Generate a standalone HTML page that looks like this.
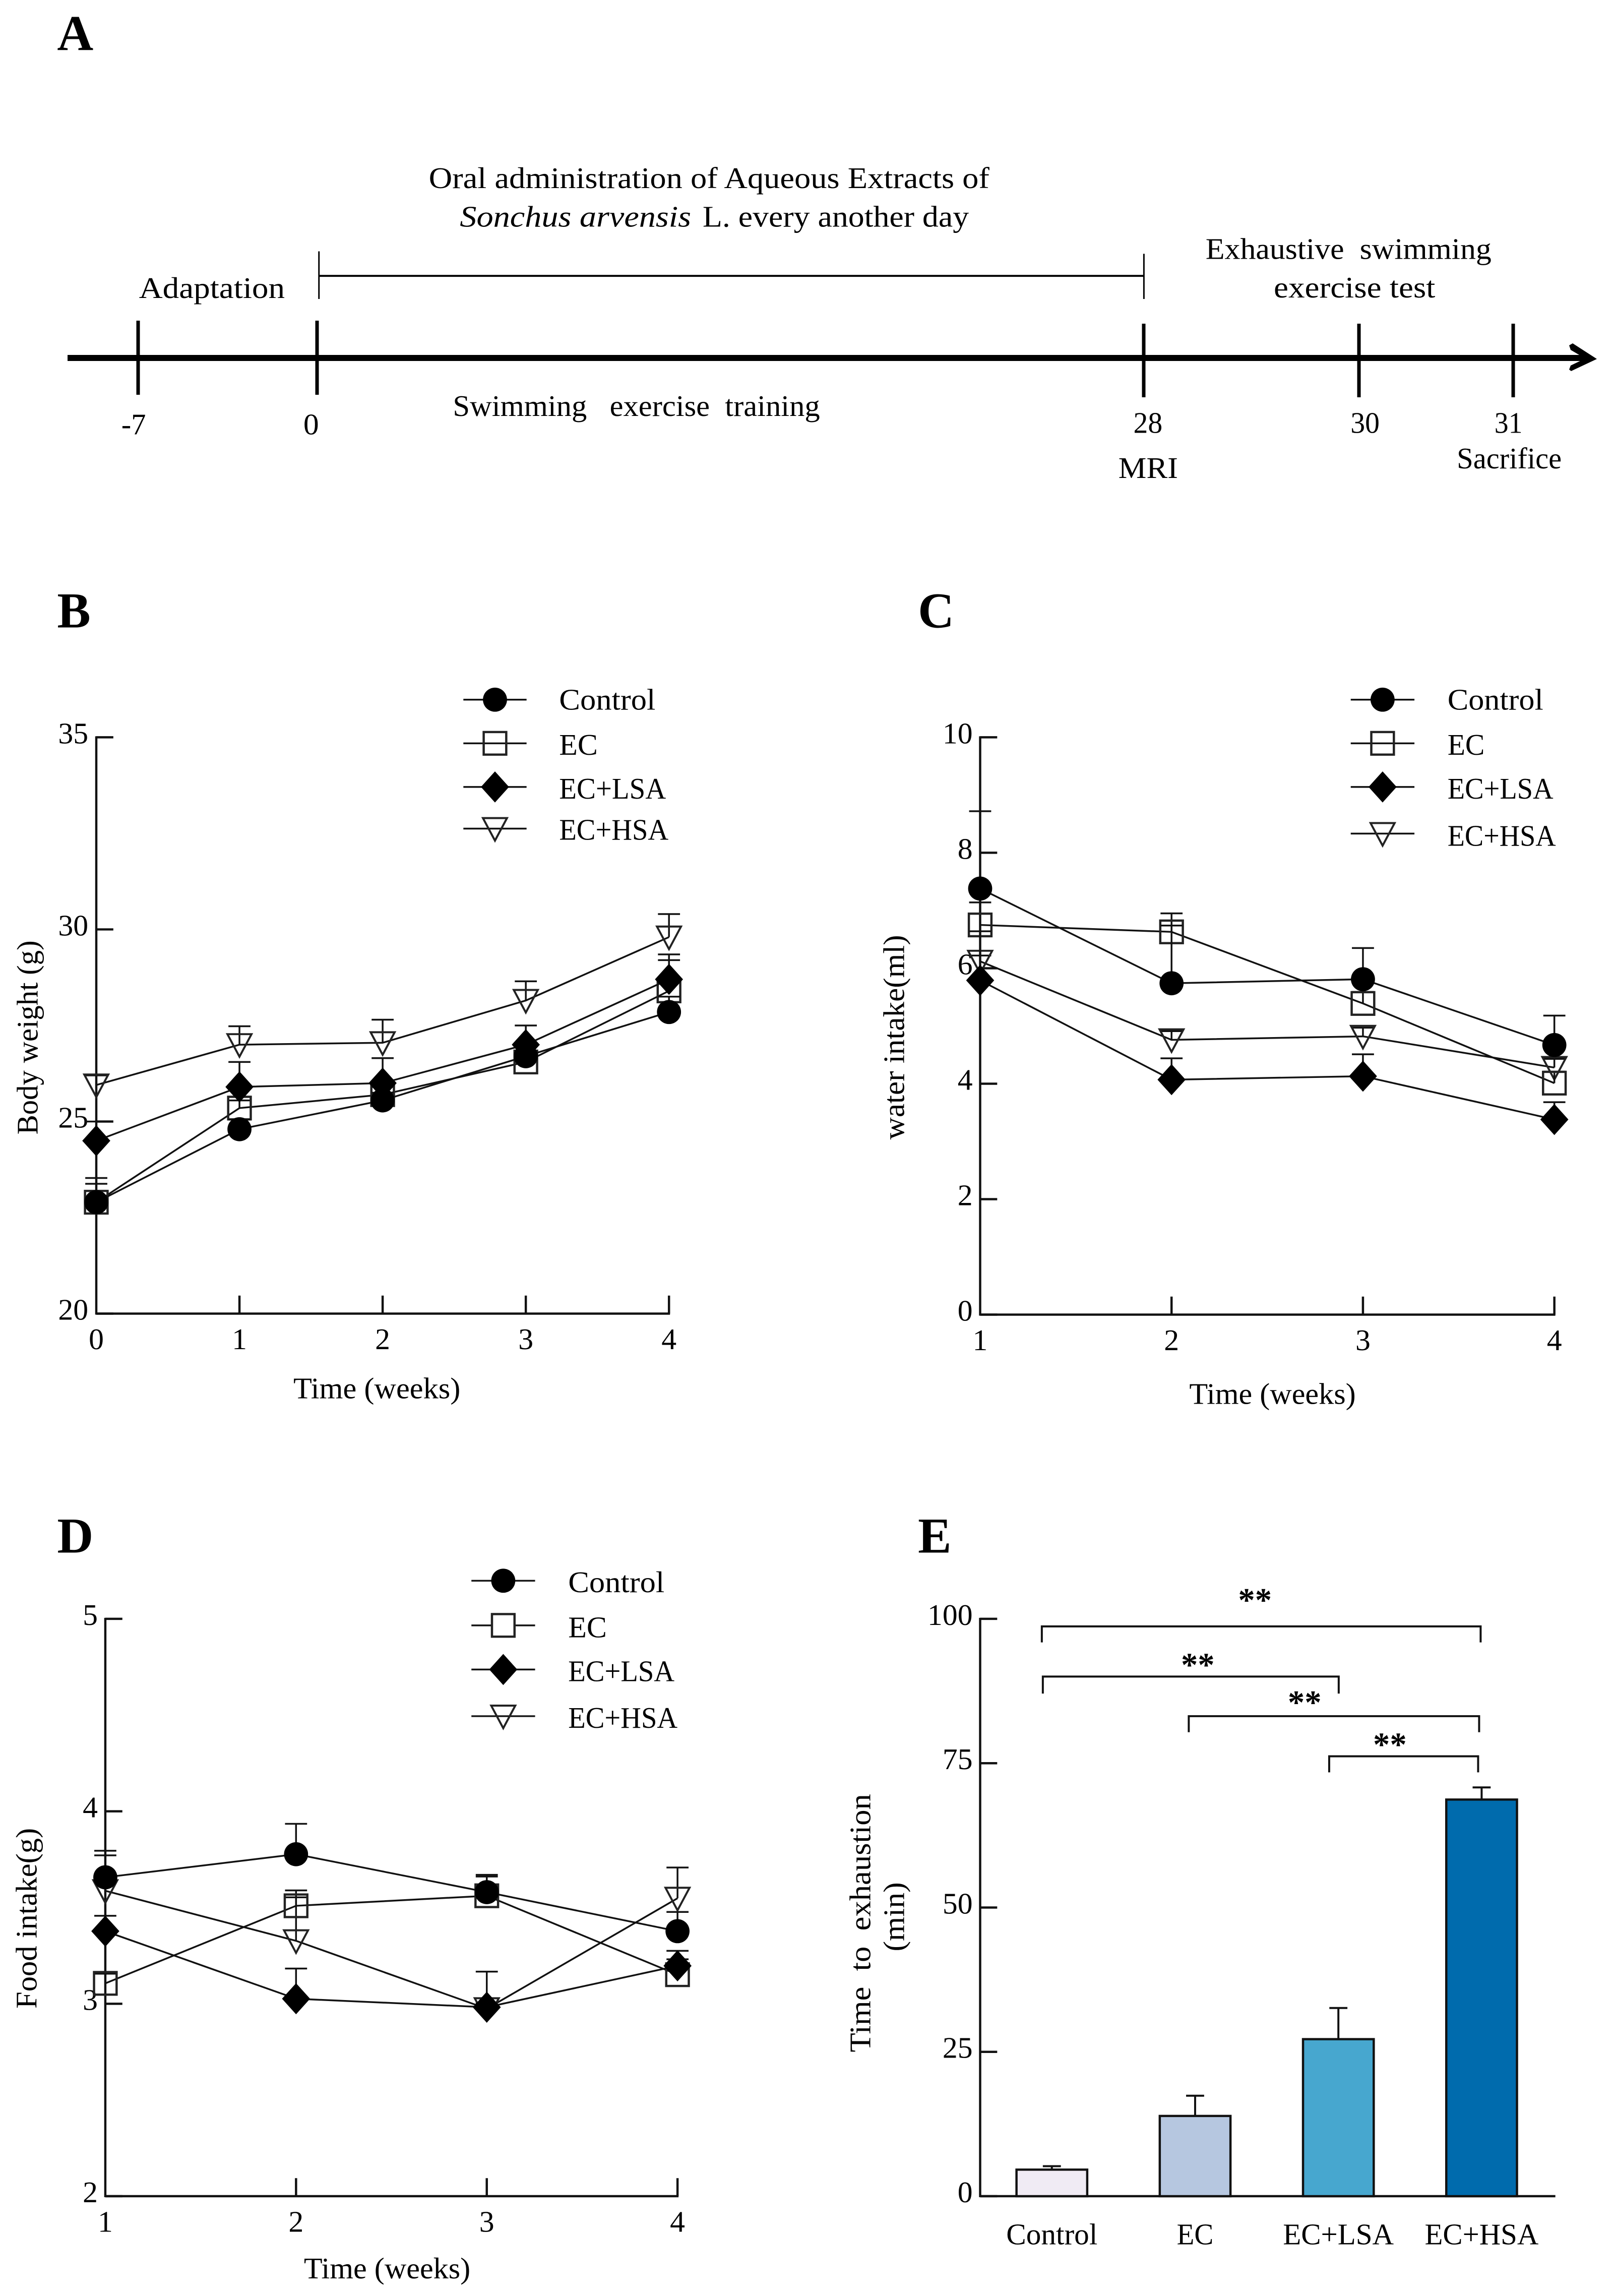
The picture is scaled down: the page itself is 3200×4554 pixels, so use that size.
<!DOCTYPE html>
<html lang="en">
<head>
<meta charset="utf-8">
<title>Sonchus arvensis exercise study figure</title>
<style>
html,body{margin:0;padding:0;background:#fff}
svg{display:block}
text{font-family:"Liberation Serif",serif;fill:#000;white-space:pre}
.ax{stroke:#111;stroke-width:4.5;fill:none}
.pl{font-size:100px;font-weight:bold;fill:#000}
.t{font-size:60px}
.tl{font-size:60px}
</style>
</head>
<body>
<svg id="fig" xmlns="http://www.w3.org/2000/svg" width="3200" height="4554" viewBox="0 0 3200 4554">
<rect width="3200" height="4554" fill="#fff"/>

<g>
<g transform="scale(.9949)">
<text class="pl" x="114" y="100">A</text>
<text class="t" x="855" y="375" textLength="1118" lengthAdjust="spacingAndGlyphs">Oral administration of Aqueous Extracts of</text>
<text class="t" x="917" y="452" textLength="461" lengthAdjust="spacingAndGlyphs" font-style="italic">Sonchus arvensis</text>
<text class="t" x="1401" y="452" textLength="531" lengthAdjust="spacingAndGlyphs">L. every another day</text>
<text class="t" x="277" y="594" textLength="291" lengthAdjust="spacingAndGlyphs">Adaptation</text>
<text class="t" x="2404" y="516" textLength="570" lengthAdjust="spacingAndGlyphs">Exhaustive  swimming</text>
<text class="t" x="2540" y="593" textLength="322" lengthAdjust="spacingAndGlyphs">exercise test</text>
<text class="t" x="903" y="829" textLength="732" lengthAdjust="spacingAndGlyphs">Swimming   exercise  training</text>
<g stroke="#000" fill="none">
<path d="M636 550H2281" stroke-width="4"/>
<path d="M636 501V596M2281 506V596" stroke-width="3"/>
</g>
<text class="t" x="242" y="866" textLength="49" lengthAdjust="spacingAndGlyphs">-7</text>
<text class="t" x="605" y="866" textLength="31" lengthAdjust="spacingAndGlyphs">0</text>
<text class="t" x="2260" y="863" textLength="58" lengthAdjust="spacingAndGlyphs">28</text>
<text class="t" x="2693" y="863" textLength="58" lengthAdjust="spacingAndGlyphs">30</text>
<text class="t" x="2980" y="863" textLength="56" lengthAdjust="spacingAndGlyphs">31</text>
<text class="t" x="2230" y="953" textLength="119" lengthAdjust="spacingAndGlyphs">MRI</text>
<text class="t" x="2905" y="934" textLength="209" lengthAdjust="spacingAndGlyphs">Sacrifice</text>
</g>
<path d="M134 710H3150" stroke="#000" stroke-width="12" fill="none"/>
<polygon points="3113,685 3120,681 3168,712 3117,736 3113,733 3116,725 3145,711 3116,694" fill="#000"/>
<path d="M274 636V783M629 636V783M2269 642V788M2696 642V788M3002 642V788" stroke="#000" stroke-width="7" fill="none"/>
</g>

<g id="panel-b" transform="translate(0 1150) scale(.9949) translate(0 -1150)">
<text class="pl" x="114" y="1245">B</text>
<text class="t" x="585" y="2782" textLength="333" lengthAdjust="spacingAndGlyphs">Time (weeks)</text>
<text class="t" x="75" y="2256" transform="rotate(-90 75 2256)" textLength="387" lengthAdjust="spacingAndGlyphs">Body weight (g)</text>
</g>
<g id="panel-c" transform="translate(1650 1150) scale(.9949) translate(-1650 -1150)">
<text class="pl" x="1822" y="1245">C</text>
<text class="t" x="2363" y="2793" textLength="332" lengthAdjust="spacingAndGlyphs">Time (weeks)</text>
<text class="t" x="1794" y="2266" transform="rotate(-90 1794 2266)" textLength="408" lengthAdjust="spacingAndGlyphs">water intake(ml)</text>
</g>
<g id="panel-d" transform="translate(0 3000) scale(.9949) translate(0 -3000)">
<text class="pl" x="114" y="3080">D</text>
<text class="t" x="606" y="4527" textLength="332" lengthAdjust="spacingAndGlyphs">Time (weeks)</text>
<text class="t" x="73" y="3989" transform="rotate(-90 73 3989)" textLength="360" lengthAdjust="spacingAndGlyphs">Food intake(g)</text>
</g>
<g id="panel-e" transform="translate(1650 3000) scale(.9949) translate(-1650 -3000)">
<text class="pl" x="1822" y="3080">E</text>
<text class="t" x="1727" y="4076" transform="rotate(-90 1727 4076)" textLength="515" lengthAdjust="spacingAndGlyphs">Time  to  exhaustion</text>
<text class="t" x="1794" y="3875" transform="rotate(-90 1794 3875)" textLength="138" lengthAdjust="spacingAndGlyphs">(min)</text>
<g fill="none" stroke="#111" stroke-width="4">
<path d="M2069 3259V3227H2944V3259"/>
<path d="M2071 3361V3327H2661V3361"/>
<path d="M2362 3438V3406H2941V3438"/>
<path d="M2642 3518V3486H2939V3518"/>
</g>
<text x="2494" y="3197" text-anchor="middle" font-weight="bold" font-size="67">**</text>
<text x="2380" y="3326" text-anchor="middle" font-weight="bold" font-size="67">**</text>
<text x="2593" y="3401" text-anchor="middle" font-weight="bold" font-size="67">**</text>
<text x="2763" y="3485" text-anchor="middle" font-weight="bold" font-size="67">**</text>
</g>
</svg>

<script>
// ---- shared series names ----
const seriesNames = ['Control', 'EC', 'EC+LSA', 'EC+HSA'];

// ---- panel B: body weight (g) ----
const bWeeks = [0, 1, 2, 3, 4];
const bYTicks = [20, 25, 30, 35];
const bControl = [22.9, 24.8, 25.55, 26.7, 27.85];
const bEC = [22.9, 25.35, 25.7, 26.55, 28.4];
const bLSA = [24.5, 25.9, 26.0, 27.0, 28.7];
const bHSA = [25.95, 27.0, 27.05, 28.15, 29.8];
const bControlErr = [0.48, 0.25, 0.2, 0.3, 0.4];
const bECErr = [0.63, 0.2, 0.2, 0.2, 0.8];
const bLSAErr = [0.5, 0.65, 0.65, 0.5, 0.65];
const bHSAErr = [0.25, 0.48, 0.6, 0.5, 0.6];

// ---- panel C: water intake (ml) ----
const cWeeks = [1, 2, 3, 4];
const cYTicks = [0, 2, 4, 6, 8, 10];
const cControl = [7.38, 5.74, 5.81, 4.67];
const cEC = [6.75, 6.63, 5.39, 4.01];
const cLSA = [5.79, 4.07, 4.13, 3.38];
const cHSA = [6.12, 4.76, 4.82, 4.28];
const cControlErr = [1.34, 1.0, 0.54, 0.51];
const cECErr = [0.39, 0.32, 0.2, 0.2];
const cLSAErr = [0.85, 0.37, 0.38, 0.3];
const cHSAErr = [0.1, 0.15, 0.15, 0.15];

// ---- panel D: food intake (g) ----
const dWeeks = [1, 2, 3, 4];
const dYTicks = [2, 3, 4, 5];
const dControl = [3.657, 3.777, 3.58, 3.377];
const dEC = [3.106, 3.509, 3.561, 3.151];
const dLSA = [3.377, 3.026, 2.982, 3.197];
const dHSA = [3.587, 3.327, 2.974, 3.548];
const dControlErr = [0.138, 0.158, 0.09, 0.1];
const dECErr = [0.05, 0.08, 0.1, 0.08];
const dLSAErr = [0.08, 0.157, 0.185, 0.078];
const dHSAErr = [0.184, 0.226, 0.03, 0.16];

// ---- panel E: time to exhaustion (min) ----
const eCategories = ['Control', 'EC', 'EC+LSA', 'EC+HSA'];
const eYTicks = [0, 25, 50, 75, 100];
const eValues = [4.6, 13.9, 27.2, 68.7];
const eErrors = [0.6, 3.5, 5.4, 2.1];
const eColors = ['#f0ebf4', '#b6c7e0', '#47a7cf', '#006bad'];

const NS = 'http://www.w3.org/2000/svg';
function linear(d0, d1, r0, r1) {
  return function (v) { return r0 + (v - d0) * (r1 - r0) / (d1 - d0); };
}
function make(parent, tag, attrs, txt) {
  const n = document.createElementNS(NS, tag);
  for (const k in attrs) n.setAttribute(k, attrs[k]);
  if (txt !== undefined) n.textContent = txt;
  parent.appendChild(n);
  return n;
}
function slug(s) { return s.toLowerCase().replace(/\+/g, '-'); }

function drawMarker(parent, kind, cx, cy) {
  if (kind === 0) return make(parent, 'circle', { cx: cx, cy: cy, r: 24, fill: '#000' });
  if (kind === 1) return make(parent, 'rect', { x: cx - 22.5, y: cy - 22.5, width: 45, height: 45, fill: 'none', stroke: '#222', 'stroke-width': 4.5 });
  if (kind === 2) return make(parent, 'polygon', { points: (cx - 28) + ',' + cy + ' ' + cx + ',' + (cy - 31) + ' ' + (cx + 28) + ',' + cy + ' ' + cx + ',' + (cy + 31), fill: '#000' });
  return make(parent, 'polygon', { points: (cx - 24) + ',' + (cy - 21) + ' ' + (cx + 24) + ',' + (cy - 21) + ' ' + cx + ',' + (cy + 24), fill: 'none', stroke: '#222', 'stroke-width': 4 });
}

function drawAxes(parent, prefix, xs, ys, xTicks, yTicks, xEnd, yLabelRight) {
  const x0 = xs(xTicks[0]);
  const y0 = ys(yTicks[0]);
  const yTop = ys(yTicks[yTicks.length - 1]);
  const yAxis = make(parent, 'path', { d: 'M' + x0 + ' ' + (yTop - 2) + 'V' + (y0 + 2), class: 'ax' });
  
  
  const xAxis = make(parent, 'path', { d: 'M' + x0 + ' ' + y0 + 'H' + (xEnd + 2), class: 'ax' });
  
  
  yTicks.forEach(function (t) {
    const tick = make(parent, 'path', { d: 'M' + x0 + ' ' + ys(t) + 'h34', class: 'ax' });
    
    
    const lab = make(parent, 'text', { x: yLabelRight, y: ys(t) + 12, 'text-anchor': 'end', class: 'tl' }, String(t));
    
    
  });
}
function drawXTicks(parent, prefix, xs, y0, xTicks) {
  xTicks.forEach(function (t, i) {
    if (i > 0) {
      const tick = make(parent, 'path', { d: 'M' + xs(t) + ' ' + y0 + 'v-36', class: 'ax' });
      
      
    }
    const lab = make(parent, 'text', { x: xs(t), y: y0 + 71, 'text-anchor': 'middle', class: 'tl' }, String(t));
    
    
  });
}

function drawSeries(parent, prefix, xs, ys, weeks, seriesIndex, values, errors) {
  const name = prefix + '-' + slug(seriesNames[seriesIndex]);
  const g = make(parent, 'g', {});
  
  
  const line = make(g, 'polyline', {
    points: values.map(function (v, i) { return xs(weeks[i]) + ',' + ys(v); }).join(' '),
    fill: 'none', stroke: '#111', 'stroke-width': 3.5
  });
  
  
  values.forEach(function (v, i) {
    const x = xs(weeks[i]);
    const top = ys(v + errors[i]);
    const err = make(g, 'path', { d: 'M' + x + ' ' + ys(v) + 'V' + top + 'M' + (x - 22) + ' ' + top + 'H' + (x + 22), fill: 'none', stroke: '#111', 'stroke-width': 3.5 });
    
    
  });
  values.forEach(function (v, i) {
    const m = drawMarker(g, seriesIndex, xs(weeks[i]), ys(v));
    
    
  });
}

function drawLegendEntry(parent, prefix, seriesIndex, lineStart, lineEnd, rowY, textX, textY, textW) {
  const g = make(parent, 'g', {});
  
  
  const line = make(g, 'path', { d: 'M' + lineStart + ' ' + rowY + 'H' + lineEnd, fill: 'none', stroke: '#111', 'stroke-width': 3.5 });
  
  
  const m = drawMarker(g, seriesIndex, (lineStart + lineEnd) / 2, rowY);
  
  
  if (prefix === 'd' && seriesIndex === 1) m.setAttribute('fill', '#fff');
  const t = make(g, 'text', { x: textX, y: textY, class: 'tl', textLength: textW, lengthAdjust: 'spacingAndGlyphs' }, seriesNames[seriesIndex]);
  
  
}

// Panel B
(function () {
  const p = document.getElementById('panel-b');
  const xs = linear(0, 4, 192, 1334);
  const ys = linear(20, 35, 2613, 1464);
  drawAxes(p, 'b', xs, ys, bWeeks, bYTicks, 1334, 176);
  drawXTicks(p, 'b', xs, 2613, bWeeks);
  drawSeries(p, 'b', xs, ys, bWeeks, 3, bHSA, bHSAErr);
  drawSeries(p, 'b', xs, ys, bWeeks, 1, bEC, bECErr);
  drawSeries(p, 'b', xs, ys, bWeeks, 0, bControl, bControlErr);
  drawSeries(p, 'b', xs, ys, bWeeks, 2, bLSA, bLSAErr);
  drawLegendEntry(p, 'b', 0, 924, 1050, 1389, 1115, 1409, 192);
  drawLegendEntry(p, 'b', 1, 924, 1050, 1476, 1115, 1499, 77);
  drawLegendEntry(p, 'b', 2, 924, 1050, 1563, 1115, 1586, 213);
  drawLegendEntry(p, 'b', 3, 924, 1050, 1646, 1115, 1668, 218);
})();

// Panel C
(function () {
  const p = document.getElementById('panel-c');
  const xs = linear(1, 4, 1946, 3091);
  const ys = linear(0, 10, 2615, 1464);
  drawAxes(p, 'c', xs, ys, cWeeks, cYTicks, 3091, 1931);
  drawXTicks(p, 'c', xs, 2615, cWeeks);
  drawSeries(p, 'c', xs, ys, cWeeks, 3, cHSA, cHSAErr);
  drawSeries(p, 'c', xs, ys, cWeeks, 1, cEC, cECErr);
  drawSeries(p, 'c', xs, ys, cWeeks, 0, cControl, cControlErr);
  drawSeries(p, 'c', xs, ys, cWeeks, 2, cLSA, cLSAErr);
  drawLegendEntry(p, 'c', 0, 2685, 2812, 1389, 2878, 1409, 191);
  drawLegendEntry(p, 'c', 1, 2685, 2812, 1476, 2878, 1499, 74);
  drawLegendEntry(p, 'c', 2, 2685, 2812, 1563, 2878, 1586, 211);
  drawLegendEntry(p, 'c', 3, 2685, 2812, 1656, 2878, 1680, 216);
})();

// Panel D
(function () {
  const p = document.getElementById('panel-d');
  const xs = linear(1, 4, 210, 1351);
  const ys = linear(2, 5, 4363, 3212);
  drawAxes(p, 'd', xs, ys, dWeeks, dYTicks, 1351, 195);
  drawXTicks(p, 'd', xs, 4363, dWeeks);
  drawSeries(p, 'd', xs, ys, dWeeks, 3, dHSA, dHSAErr);
  drawSeries(p, 'd', xs, ys, dWeeks, 1, dEC, dECErr);
  drawSeries(p, 'd', xs, ys, dWeeks, 0, dControl, dControlErr);
  drawSeries(p, 'd', xs, ys, dWeeks, 2, dLSA, dLSAErr);
  drawLegendEntry(p, 'd', 0, 940, 1067, 3136, 1133, 3159, 192);
  drawLegendEntry(p, 'd', 1, 940, 1067, 3225, 1133, 3249, 77);
  drawLegendEntry(p, 'd', 2, 940, 1067, 3313, 1133, 3336, 212);
  drawLegendEntry(p, 'd', 3, 940, 1067, 3406, 1133, 3429, 218);
})();

// Panel E
(function () {
  const p = document.getElementById('panel-e');
  const xs = linear(0, 3, 2089, 2946);
  const ys = linear(0, 100, 4363, 3212);
  const xAxisHelper = linear(0, 1, 1946, 3091);
  drawAxes(p, 'e', xAxisHelper, ys, [0, 1], eYTicks, 3091, 1931);
  eValues.forEach(function (v, i) {
    const name = 'e-' + slug(eCategories[i]);
    const x = xs(i);
    const top = ys(v + eErrors[i]);
    const err = make(p, 'path', { d: 'M' + x + ' ' + ys(v) + 'V' + top + 'M' + (x - 18) + ' ' + top + 'H' + (x + 18), fill: 'none', stroke: '#111', 'stroke-width': 4 });
    
    
    const bar = make(p, 'rect', { x: x - 70.5, y: ys(v), width: 141, height: ys(0) - ys(v), fill: eColors[i], stroke: '#111', 'stroke-width': 4.5 });
    
    
    const lab = make(p, 'text', { x: x, y: 4459, 'text-anchor': 'middle', class: 'tl', textLength: [182, 73, 221, 227][i], lengthAdjust: 'spacingAndGlyphs' }, eCategories[i]);
    
    
  });
})();
</script>
</body>
</html>
